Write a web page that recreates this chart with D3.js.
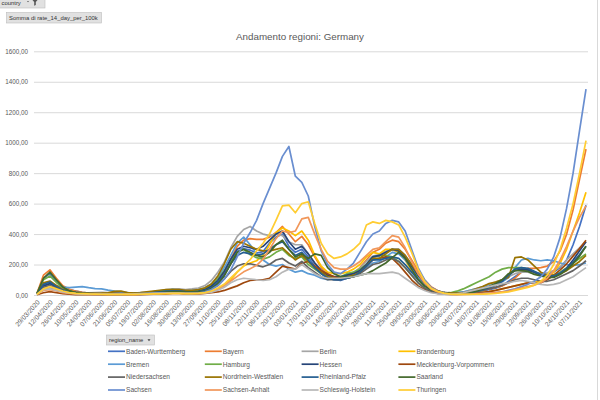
<!DOCTYPE html>
<html>
<head>
<meta charset="utf-8">
<script src="https://cdn.jsdelivr.net/npm/d3@7"></script>
<style>
  body { margin: 0; background: #fff; }
  svg { font-family: "Liberation Sans", Arial, sans-serif; }
</style>
</head>
<body>
<script>
// week labels (one point per week)
var dates = ["29/03/2020","05/04/2020","12/04/2020","19/04/2020","26/04/2020","03/05/2020","10/05/2020","17/05/2020","24/05/2020","31/05/2020",
  "07/06/2020","14/06/2020","21/06/2020","28/06/2020","05/07/2020","12/07/2020","19/07/2020","26/07/2020","02/08/2020","09/08/2020",
  "16/08/2020","23/08/2020","30/08/2020","06/09/2020","13/09/2020","20/09/2020","27/09/2020","04/10/2020","11/10/2020","18/10/2020",
  "25/10/2020","01/11/2020","08/11/2020","15/11/2020","22/11/2020","29/11/2020","06/12/2020","13/12/2020","20/12/2020","27/12/2020",
  "03/01/2021","10/01/2021","17/01/2021","24/01/2021","31/01/2021","07/02/2021","14/02/2021","21/02/2021","28/02/2021","07/03/2021",
  "14/03/2021","21/03/2021","28/03/2021","04/04/2021","11/04/2021","18/04/2021","25/04/2021","02/05/2021","09/05/2021","16/05/2021",
  "23/05/2021","30/05/2021","06/06/2021","13/06/2021","20/06/2021","27/06/2021","04/07/2021","11/07/2021","18/07/2021","25/07/2021",
  "01/08/2021","08/08/2021","15/08/2021","22/08/2021","29/08/2021","05/09/2021","12/09/2021","19/09/2021","26/09/2021","03/10/2021",
  "10/10/2021","17/10/2021","24/10/2021","31/10/2021","07/11/2021","14/11/2021"];

// x labels shown (every other week)
var xTicks = dates.filter(function (d, i) { return i % 2 === 0; });
var yTicks = [0, 200, 400, 600, 800, 1000, 1200, 1400, 1600];

var regions = ["Baden-Wurttemberg","Bayern","Berlin","Brandenburg","Bremen","Hamburg","Hessen","Mecklenburg-Vorpommern",
  "Niedersachsen","Nordrhein-Westfalen","Rheinland-Pfalz","Saarland","Sachsen","Sachsen-Anhalt","Schleswig-Holstein","Thuringen"];

var colors = ["#4472C4","#ED7D31","#A5A5A5","#FFC000","#5B9BD5","#70AD47","#264478","#9E480E",
  "#636363","#997300","#255E91","#43682B","#698ED0","#F1975A","#B7B7B7","#FFCD33"];

// rate_14_day_per_100k
var badenWurttemberg = [8,110,140,90,50,35,25,18,12,9,7,6,6,6,6,7,9,12,14,16,19,21,21,19,19,21,27,42,75,130,210,285,305,295,275,285,340,380,400,320,280,300,250,190,140,110,100,95,110,125,155,195,250,255,285,300,300,260,200,140,90,50,30,15,10,10,12,15,20,28,35,45,60,90,120,150,160,150,140,140,150,180,230,330,450,590];
var bayern = [12,130,165,110,60,38,25,17,12,9,7,6,6,6,6,7,9,13,16,21,26,27,26,23,23,26,32,45,80,140,235,320,360,370,365,365,380,410,450,400,350,385,330,250,180,130,110,110,120,140,180,230,280,300,340,360,350,300,230,160,100,55,30,15,10,8,10,14,20,30,40,50,60,80,110,150,175,175,180,190,220,290,400,560,760,958];
var berlin = [8,60,75,50,32,22,17,14,14,16,18,16,15,13,11,13,16,19,22,27,36,40,40,36,40,46,62,95,150,215,310,385,430,450,420,400,390,400,390,350,330,330,270,210,165,135,120,115,130,150,175,220,255,265,285,295,285,245,185,125,80,45,28,18,14,15,20,30,42,55,70,85,100,120,140,150,150,140,140,145,160,185,230,270,310,350];
var brandenburg = [4,40,50,35,22,14,9,6,5,4,3,3,3,3,3,4,5,6,7,8,10,12,12,10,10,12,15,22,38,62,100,150,190,210,225,260,330,410,440,420,390,420,360,260,190,150,140,140,150,170,200,250,280,270,300,300,280,230,160,100,55,30,15,8,5,5,5,8,12,18,22,30,40,50,60,70,80,85,90,110,150,210,300,420,540,675];
var bremen = [8,60,75,62,52,48,52,55,48,42,40,32,26,21,16,11,11,13,16,21,30,35,30,26,30,36,46,72,115,180,260,340,380,330,270,230,200,190,200,170,150,160,140,130,110,100,110,115,120,130,150,180,210,220,250,280,270,230,180,120,70,40,25,15,12,15,20,30,40,50,60,72,85,115,180,230,240,230,225,230,225,210,200,195,200,210];
var hamburg = [10,100,125,82,48,28,17,12,9,8,8,7,7,7,8,9,11,16,21,26,31,35,31,26,26,31,42,62,105,160,225,280,300,265,245,235,250,280,300,260,240,250,200,170,140,120,115,120,140,150,170,200,250,260,260,250,220,180,130,80,45,25,15,12,15,25,40,60,80,100,120,150,170,180,180,180,170,150,130,120,130,150,180,210,240,270];
var hessen = [8,60,75,52,34,24,18,14,11,9,7,6,6,6,7,9,11,13,16,19,23,26,28,24,23,26,36,58,95,155,235,300,320,310,300,320,360,400,420,350,300,320,270,210,160,130,120,120,130,140,160,200,250,260,280,300,290,250,190,130,80,45,25,15,10,10,12,18,25,35,50,65,90,130,160,170,165,150,130,120,120,140,175,230,290,350];
var mecklenburg = [2,15,22,15,9,5,3,2,2,2,2,2,2,2,2,3,3,4,5,6,8,10,10,8,8,8,10,15,20,30,45,60,80,95,100,100,110,150,190,180,170,210,220,190,160,140,120,110,110,120,150,190,230,240,250,240,200,150,100,60,35,20,10,5,4,4,5,8,12,18,22,30,40,50,60,70,80,80,80,100,130,165,205,255,305,360];
var niedersachsen = [6,50,62,45,32,22,17,13,11,9,9,11,13,11,9,9,11,13,16,19,21,21,21,19,19,21,26,37,62,105,155,190,205,205,195,185,200,230,240,210,190,220,180,150,120,100,100,100,110,120,140,170,200,210,230,240,220,180,130,80,45,25,15,10,8,8,10,15,20,30,40,50,65,80,100,110,110,100,90,90,100,120,140,160,190,225];
var nordrhein = [8,80,92,62,37,22,16,13,11,11,12,14,24,26,16,13,16,21,26,31,36,36,35,31,31,36,47,72,125,205,300,350,340,320,300,290,290,300,310,270,230,260,220,180,150,120,110,110,120,130,150,190,240,240,270,300,300,260,200,140,80,45,25,15,12,12,15,25,40,55,75,85,100,115,245,250,230,190,150,130,130,140,160,190,220,260];
var rheinland = [8,70,85,55,32,19,13,10,8,7,6,6,6,6,6,7,9,11,16,21,26,26,26,23,21,23,31,47,82,135,205,260,280,270,260,270,300,330,350,300,260,280,230,180,140,110,100,100,110,120,150,190,230,230,240,250,240,200,150,100,60,35,20,12,8,8,10,15,25,35,50,65,90,130,170,180,175,155,135,125,125,145,175,215,265,320];
var saarland = [10,110,150,100,52,27,16,11,9,7,6,5,5,5,5,6,7,9,13,16,19,21,21,19,19,21,26,42,72,125,205,280,300,280,260,250,280,330,360,300,250,270,240,270,260,180,140,120,120,120,130,140,160,185,210,245,280,240,170,105,60,35,20,12,8,8,10,15,25,40,55,75,100,140,160,160,155,135,125,115,115,135,165,205,255,320];
var sachsen = [6,40,50,35,21,13,9,6,5,4,4,4,4,4,4,5,6,7,9,11,13,13,13,11,11,13,21,36,62,105,165,250,340,410,490,600,700,800,910,975,780,740,650,450,290,200,150,140,170,210,280,350,400,420,470,490,480,420,300,180,100,50,25,12,6,5,5,5,8,10,12,15,20,30,40,55,70,90,120,170,250,380,570,800,1080,1352];
var sachsenAnhalt = [4,30,35,26,16,11,7,5,4,4,4,4,4,4,4,4,5,6,7,9,11,11,11,9,9,11,13,21,36,62,92,122,152,172,195,235,300,370,420,410,420,500,510,400,300,220,180,170,170,190,220,260,300,310,350,390,380,310,220,140,80,40,20,10,5,4,4,5,8,10,12,15,20,25,35,45,55,65,80,110,160,230,320,420,510,585];
var schleswig = [4,35,40,30,21,13,9,6,5,5,5,5,5,5,6,7,9,11,13,13,13,13,13,11,11,11,13,19,31,51,80,100,110,105,100,95,100,120,150,170,170,200,170,140,120,110,110,110,115,120,130,140,140,140,145,150,140,110,80,50,30,15,8,5,5,8,15,25,35,45,55,65,75,80,90,95,90,80,70,65,70,80,100,120,150,180];
var thuringen = [4,40,55,40,26,16,11,9,7,6,5,4,4,4,4,4,5,6,7,8,9,11,11,9,9,11,16,26,46,72,112,152,192,232,290,340,400,490,585,590,540,600,612,470,340,270,240,250,270,300,340,460,480,470,490,480,460,380,280,170,90,45,25,12,6,4,4,4,5,6,8,10,15,20,30,40,50,65,90,130,200,300,440,600,800,1013];

var seriesValues = [badenWurttemberg, bayern, berlin, brandenburg, bremen, hamburg, hessen, mecklenburg,
  niedersachsen, nordrhein, rheinland, saarland, sachsen, sachsenAnhalt, schleswig, thuringen];

var svg = d3.select("body")
    .append("svg")
    .attr("width", 600)
    .attr("height", 400);

var textGrey = "#595959";

// right border of the chart area
svg.append("line")
    .attr("x1", 597.5).attr("x2", 597.5)
    .attr("y1", 0).attr("y2", 400)
    .attr("stroke", "#D9D9D9");

// pivot field buttons
function button(x, y, w, h, label, arrow) {
    var g = svg.append("g").attr("transform", "translate(" + x + "," + y + ")");
    g.append("rect")
        .attr("width", w).attr("height", h)
        .attr("fill", "#E1E1E1")
        .attr("stroke", "#BDBDBD")
        .attr("stroke-width", 0.6);
    g.append("text")
        .attr("x", 2.5).attr("y", h / 2 + 2.1)
        .attr("font-size", 5.9)
        .attr("fill", "#333")
        .text(label);
    if (arrow) {
        g.append("path")
            .attr("d", "M" + (w - 7) + "," + (h / 2 - 0.8) + "l3,0l-1.5,2z")
            .attr("fill", "#444");
    }
    return g;
}
var countryBtn = button(-1, -2, 46, 10, "country", false);
countryBtn.append("path")
    .attr("d", "M33,1.5h6l-2.2,2.5v3l-1.6,0.8v-3.8z")
    .attr("fill", "#555");
countryBtn.append("path")
    .attr("d", "M28,3l2,0l-1,1.3z")
    .attr("fill", "#555");
button(6.5, 12.5, 95, 10.5, "Somma di rate_14_day_per_100k", false);
button(106.5, 335, 48, 10, "region_name", true);

// title
svg.append("text")
    .attr("x", 300).attr("y", 40)
    .attr("text-anchor", "middle")
    .attr("font-size", 9.8)
    .attr("fill", textGrey)
    .text("Andamento regioni: Germany");

// scales
var x = d3.scalePoint().domain(dates).range([37, 586]);
var y = d3.scaleLinear().domain([0, 1600]).range([295, 51.3]);

// y axis + gridlines
var yAxis = svg.append("g")
    .attr("transform", "translate(34,0)")
    .call(d3.axisLeft(y)
        .tickValues(yTicks)
        .tickSizeInner(-554)
        .tickSizeOuter(0)
        .tickPadding(6)
        .tickFormat(function (d) { return d3.format(".2f")(d).replace(".", ","); }));
yAxis.select(".domain").remove();
yAxis.selectAll("line").attr("stroke", "#D9D9D9");
yAxis.selectAll("text")
    .attr("font-size", 6.3)
    .attr("fill", textGrey)
    .attr("font-family", "Liberation Sans, Arial, sans-serif");

// x axis labels
var xAxis = svg.append("g")
    .attr("transform", "translate(0,295)")
    .call(d3.axisBottom(x).tickValues(xTicks).tickSize(0));
xAxis.select(".domain").remove();
xAxis.selectAll("text")
    .attr("y", 0).attr("dy", "0.35em")
    .attr("text-anchor", "end")
    .attr("transform", "translate(1,6) rotate(-48)")
    .attr("font-size", 6.6)
    .attr("fill", textGrey)
    .attr("font-family", "Liberation Sans, Arial, sans-serif");

// lines
var line = d3.line()
    .x(function (d, i) { return x(dates[i]); })
    .y(function (d) { return y(d); });

svg.append("g")
    .selectAll("path")
    .data(seriesValues)
    .join("path")
    .attr("fill", "none")
    .attr("stroke", function (d, i) { return colors[i]; })
    .attr("stroke-width", 1.7)
    .attr("stroke-linejoin", "round")
    .attr("d", line);

// legend (4 columns)
var legend = svg.append("g");
var item = legend.selectAll("g")
    .data(regions)
    .join("g")
    .attr("transform", function (d, i) {
        return "translate(" + (108 + (i % 4) * 96.8) + "," + (351.3 + Math.floor(i / 4) * 12.9) + ")";
    });
item.append("line")
    .attr("x1", 0).attr("x2", 17)
    .attr("stroke", function (d, i) { return colors[i]; })
    .attr("stroke-width", 1.7);
item.append("text")
    .attr("x", 18).attr("y", 2.3)
    .attr("font-size", 6.6)
    .attr("fill", textGrey)
    .text(function (d) { return d; });
</script>
</body>
</html>
